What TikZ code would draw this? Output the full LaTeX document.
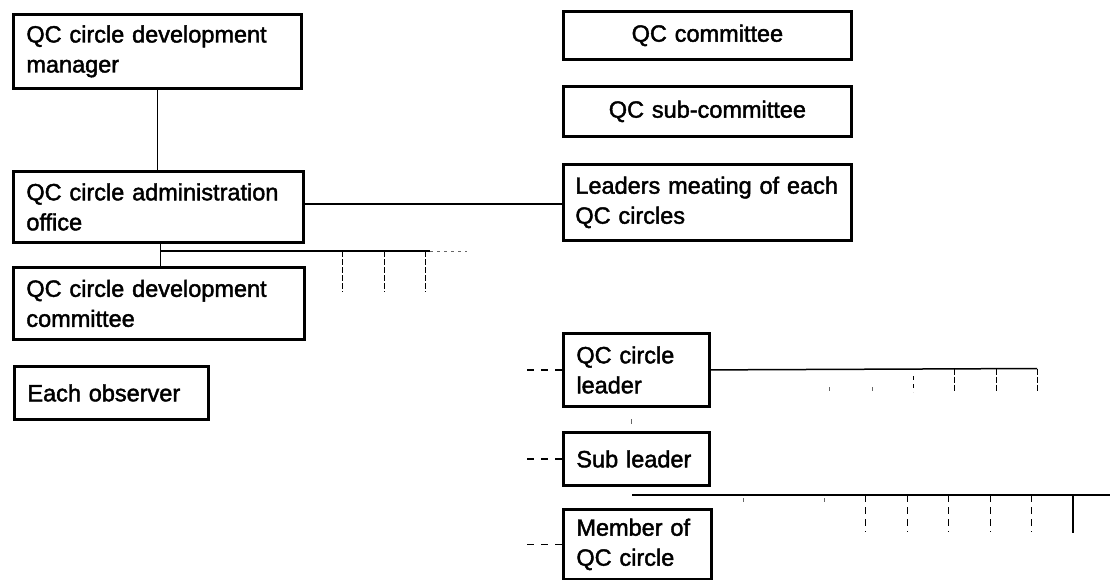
\documentclass[tikz,border=0pt]{standalone}
\usepackage{fontspec}
\setmainfont{Liberation Sans}
\newfontfamily\chartfont{Liberation Sans}[FakeBold=1.8]
\begin{document}
\begin{tikzpicture}[x=1pt,y=-1pt,
  box/.style={draw=black, line width=2.8pt, anchor=north west, inner xsep=13pt,
    inner ysep=0pt, align=left, font=\chartfont\fontsize{23.5}{30}\selectfont},
  cbox/.style={box, align=center, inner xsep=12pt},
  link/.style={line width=1.5pt},
  tick/.style={line width=1pt, dash pattern=on 6pt off 2pt},
  faint/.style={line width=0.9pt, black!60, dash pattern=on 3pt off 4pt},
  speck/.style={line width=1pt, black!60},
  stub/.style={line width=1.3pt, dash pattern=on 7pt off 7pt}]
\useasboundingbox (0,0) rectangle (1110,579);

% left column
\node[box, text width=262pt, minimum height=74pt] (b1) at (12,13) {\mbox{QC circle development}\\manager};
\node[box, text width=264pt, minimum height=71pt] (b2) at (12,170) {\mbox{QC circle administration}\\office};
\node[box, text width=265pt, minimum height=72pt] (b3) at (12,266) {\mbox{QC circle development}\\committee};
\node[box, text width=168pt, minimum height=53pt] (b4) at (13,365) {\mbox{Each observer}};

% right column
\node[cbox, text width=264pt, minimum height=48pt] (c1) at (562,10) {QC committee};
\node[cbox, text width=264pt, minimum height=50pt] (c2) at (562,85) {QC sub-committee};
\node[box, inner xsep=12pt, text width=264pt, minimum height=76pt] (c3) at (562,163) {\mbox{Leaders meating of each}\\QC circles};

% circle members
\node[box, text width=120pt, minimum height=73pt] (d1) at (562,332) {QC circle\\leader};
\node[box, text width=120pt, minimum height=53pt] (d2) at (562,431) {\mbox{Sub leader}};
\node[box, text width=122pt, minimum height=70pt] (d3) at (562,508) {\mbox{Member of}\\QC circle};

% main connectors
\draw[link] (b1.south) -- (b1.south |- b2.north);
\draw[link] ([yshift=3pt]b2.east) -- ([yshift=3pt]b2.east -| c3.west);
\coordinate (bs) at ([xshift=2pt]b2.south);
\draw[link] (bs) -- (bs |- b3.north);

% branch towards the sections
\coordinate (br) at (bs |- 0,251);
\coordinate (brend) at (430,251);
\draw[link] (br) -- (brend);
\draw[faint] (brend) -- (467,251);
\foreach \x in {342,384,425} \draw[tick] (\x,251) -- (\x,292);

% stubs on the left of the circle boxes
\foreach \n in {d1,d2,d3} \draw[stub] (\n.west) ++(-35,0) -- (\n.west);

% leader line with its ticks
\coordinate (le) at (1037,368.5);
\draw[link] (d1.east) -- (le);
\foreach \x in {829,872} \draw[speck] (\x,387) -- (\x,391);
\draw[tick, dash pattern=on 4pt off 4pt] (913,376) -- (913,392);
\foreach \x in {954,996,1037} \draw[tick] (\x,368.5) -- (\x,392);
\draw[speck] (631,419) -- (631,424);

% member line with its ticks
\coordinate (ms) at (632,495);
\draw[line width=1.8pt] (ms) -- (1110,495);
\foreach \x in {743,824} \draw[speck] (\x,498) -- (\x,502);
\foreach \x in {865,907,948,990,1031} \draw[tick, dash pattern=on 7pt off 5pt] (\x,495) -- (\x,532);
\draw[line width=1.6pt] (1073,495) -- (1073,533);
\end{tikzpicture}
\end{document}
